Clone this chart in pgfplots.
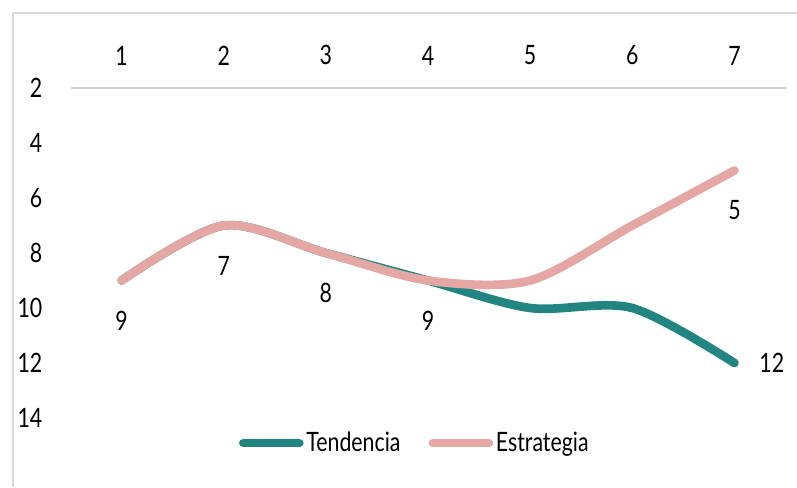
\documentclass[border=0pt]{standalone}
\usepackage{pgfplots}
\pgfplotsset{compat=1.18}
\usepackage{pgfplotstable}
\usepackage{fontspec}
\setmainfont{Lato}[FakeStretch=0.8]

\definecolor{tend}{RGB}{35,133,130}
\definecolor{estr}{RGB}{228,167,164}
\definecolor{framec}{RGB}{217,217,217}
\definecolor{gridc}{RGB}{208,208,208}

% x y lab dx dy
\pgfplotstableread{
x y lab dx dy
1 9 9 0 -30
2 7 7 0 -30
3 8 8 0 -30
4 9 9 0 -30
5 10 {} 0 0
6 10 {} 0 0
7 12 12 28 0
}\tendencia
\pgfplotstableread{
x y lab dx dy
1 9 {} 0 0
2 7 {} 0 0
3 8 {} 0 0
4 9 {} 0 0
5 9 {} 0 0
6 7 {} 0 0
7 5 5 0 -30
}\estrategia

\begin{document}
\begin{tikzpicture}
\useasboundingbox (0,0) rectangle (597.75pt,365.25pt);
\draw[framec, line width=1.5pt] (9.4pt,0) -- (9.4pt,355.5pt) -- (600pt,355.5pt);
\begin{axis}[
  at={(52.9pt,51.75pt)}, anchor=south west,
  width=536.25pt, height=247.5pt, scale only axis,
  xmin=0.5, xmax=7.5, ymin=2, ymax=14, y dir=reverse,
  axis line style={draw=none},
  xtick={1,...,7}, ytick={2,4,...,14},
  major tick length=0,
  xticklabel pos=right,
  tick label style={inner sep=0pt},
  xticklabel style={anchor=south},
  yticklabel style={anchor=east},
  xticklabel shift=17pt,
  yticklabel shift=21pt,
  font=\fontsize{20}{24}\selectfont,
  /pgf/number format/assume math mode=true,
  clip=false,
  legend style={at={(0.482,-0.076)}, anchor=center, draw=none, fill=none,
    legend columns=2, font=\fontsize{20}{24}\selectfont,
    /tikz/every even column/.append style={column sep=19pt}},
  legend image code/.code={\draw[#1, line cap=round] (0pt,0pt) -- (42pt,0pt);},
]
\draw[gridc, line width=1.5pt] (axis cs:0.5,2) -- (axis cs:7.5,2);
\addplot[tend, line width=6.5pt, line cap=round, smooth, tension=0.5,
  nodes near coords, point meta=explicit symbolic,
  visualization depends on={\thisrow{dx}\as\dx},
  visualization depends on={\thisrow{dy}\as\dy},
  every node near coord/.append style={black, anchor=center, xshift=\dx pt, yshift=\dy pt}]
  table[x=x, y=y, meta=lab] {\tendencia};
\addlegendentry{Tendencia}
\addplot[estr, line width=6.5pt, line cap=round, smooth, tension=0.5,
  nodes near coords, point meta=explicit symbolic,
  visualization depends on={\thisrow{dx}\as\dx},
  visualization depends on={\thisrow{dy}\as\dy},
  every node near coord/.append style={black, anchor=center, xshift=\dx pt, yshift=\dy pt}]
  table[x=x, y=y, meta=lab] {\estrategia};
\addlegendentry{Estrategia}
\end{axis}
\end{tikzpicture}
\end{document}
